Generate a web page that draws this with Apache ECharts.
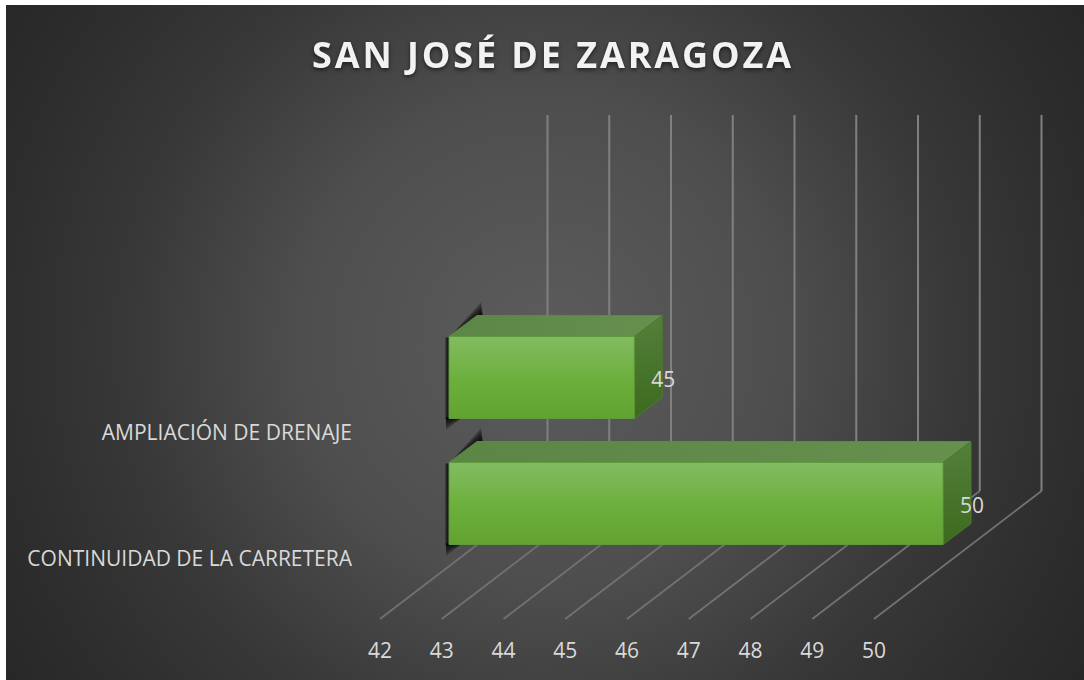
<!DOCTYPE html>
<html>
<head>
<meta charset="utf-8">
<title>San José de Zaragoza</title>
<script src="https://cdn.jsdelivr.net/npm/echarts@6/dist/echarts.min.js"></script>
<style>
  html, body { margin: 0; background: #fff; }
  #main { position: absolute; left: 6px; top: 5px; width: 1078px; height: 675px; }
  /* only the title is bold */
  #main text[style*="bold"] { letter-spacing: 2.9px; filter: drop-shadow(0 2px 2px rgba(0,0,0,0.55)); }
</style>
</head>
<body>
<div id="main"></div>
<script>
const titleText = 'SAN JOSÉ DE ZARAGOZA'
const categories = ['CONTINUIDAD DE LA CARRETERA', 'AMPLIACIÓN DE DRENAJE']
const values = [50, 45]
const ticks = [42, 43, 44, 45, 46, 47, 48, 49, 50]

const axisMin = 42
const floorX = 167.5, floorY = -128, wallH = 376  // fake 3d box
const barX = 69, barUp = 54, barH = 82            // bar front plane
const depthX = 28, depthY = -21                   // bar depth

function renderGrid (params, api) {
  const p = api.coord([api.value(0), 0])
  const x = p[0]
  const y = p[1] + api.size([0, 1])[1] / 2 - 1.5
  const line = (x1, y1, x2, y2, c, w) => ({
    type: 'line',
    shape: { x1, y1, x2, y2 },
    style: { stroke: c, lineWidth: w }
  })
  return {
    type: 'group',
    children: [
      line(x, y, x + floorX, y + floorY, '#727272', 1.8),
      line(x + floorX, y + floorY, x + floorX, y + floorY - wallH, '#808080', 2)
    ]
  }
}

// soft shadow round the left of the bar, stacked wedges instead of a blur
function barShadow (x0, yt, yb) {
  const wedge = (points) => ({
    type: 'polygon',
    shape: { points },
    style: { fill: '#000', opacity: 0.3 }
  })
  const parts = []
  ;[13, 10, 7, 4].forEach(k => {
    parts.push(wedge([[x0 - 1, yt + 2], [x0 + depthX + 4, yt + depthY - k], [x0 + depthX + 6, yt + depthY + 1], [x0 + 4, yt + 4]]))
  })
  ;[11, 8, 5, 2].forEach(k => {
    parts.push(wedge([[x0 - 3, yb - 1], [x0 + 12, yb], [x0 - 3, yb + k]]))
  })
  ;[4, 3, 2, 1].forEach(k => {
    parts.push(wedge([[x0 - k, yt + 1], [x0 + 2, yt + 1], [x0 + 2, yb + 1], [x0 - k, yb + 1]]))
  })
  return parts
}

function renderBar (params, api) {
  const val = api.value(0)
  const p = api.coord([val, api.value(1)])
  const x0 = api.coord([axisMin, 0])[0] + barX
  const x1 = p[0] + barX
  const yt = p[1] - barUp - barH / 2
  const yb = yt + barH
  const edge = '#5f9a3c'
  return {
    type: 'group',
    children: barShadow(x0, yt, yb).concat([
      {
        type: 'polygon',
        shape: { points: [[x0, yt], [x0 + depthX, yt + depthY], [x1 + depthX, yt + depthY], [x1, yt]] },
        style: {
          fill: new echarts.graphic.LinearGradient(0, 0, 1, 0, [
            { offset: 0, color: '#5b8645' },
            { offset: 1, color: '#67904f' }
          ]),
          stroke: '#5d8a42',
          lineWidth: 1
        }
      },
      {
        type: 'polygon',
        shape: { points: [[x1, yt], [x1 + depthX, yt + depthY], [x1 + depthX, yb + depthY], [x1, yb]] },
        style: {
          fill: new echarts.graphic.LinearGradient(0, 0, 0, 1, [
            { offset: 0, color: '#54803a' },
            { offset: 1, color: '#3c6a1e' }
          ]),
          stroke: '#4a7a2e',
          lineWidth: 1
        }
      },
      {
        type: 'rect',
        shape: { x: x0, y: yt, width: x1 - x0, height: barH },
        style: {
          fill: new echarts.graphic.LinearGradient(0, 0, 0, 1, [
            { offset: 0, color: '#82bc62' },
            { offset: 0.5, color: '#6eb03e' },
            { offset: 1, color: '#61a231' }
          ]),
          stroke: edge,
          lineWidth: 1
        }
      },
      {
        type: 'text',
        style: {
          text: String(val),
          x: x1 + 17,
          y: yt + barH / 2 + 1,
          fill: '#d9d9d9',
          font: '21px "Open Sans"',
          verticalAlign: 'middle'
        }
      }
    ])
  }
}

const chart = echarts.init(document.getElementById('main'), null, { renderer: 'svg' })
chart.setOption({
  animation: false,
  backgroundColor: {
    type: 'radial',
    global: true,
    x: 537,
    y: 337,
    r: 640,
    colorStops: [
      { offset: 0, color: '#5c5c5c' },
      { offset: 0.38, color: '#4e4e4e' },
      { offset: 0.65, color: '#383838' },
      { offset: 0.84, color: '#2e2e2e' },
      { offset: 1, color: '#272727' }
    ]
  },
  textStyle: { fontFamily: '"Open Sans"' },
  title: {
    text: titleText,
    left: 301,
    top: 26,
    textStyle: { color: '#f2f2f2', fontSize: 36, fontWeight: 'bold', fontFamily: '"Open Sans"' }
  },
  grid: { left: 374, right: 210, top: 363.5, bottom: 59.5 },
  xAxis: {
    type: 'value',
    min: axisMin,
    max: 50,
    interval: 1,
    axisLine: { show: false },
    axisTick: { show: false },
    splitLine: { show: false },
    axisLabel: { color: '#d9d9d9', fontSize: 21, margin: 19, fontFamily: '"Open Sans"', showMinLabel: true, showMaxLabel: true }
  },
  yAxis: {
    type: 'category',
    data: categories,
    axisLine: { show: false },
    axisTick: { show: false },
    splitLine: { show: false },
    axisLabel: { color: '#d9d9d9', fontSize: 21, margin: 28, fontFamily: '"Open Sans"' }
  },
  series: [
    {
      type: 'custom',
      z: 1,
      silent: true,
      clip: false,
      renderItem: renderGrid,
      encode: { x: 0, y: 1 },
      data: ticks.map(t => [t, 0])
    },
    {
      type: 'custom',
      z: 2,
      clip: false,
      renderItem: renderBar,
      encode: { x: 0, y: 1 },
      data: values.map((v, i) => [v, i])
    }
  ]
})
</script>
</body>
</html>
